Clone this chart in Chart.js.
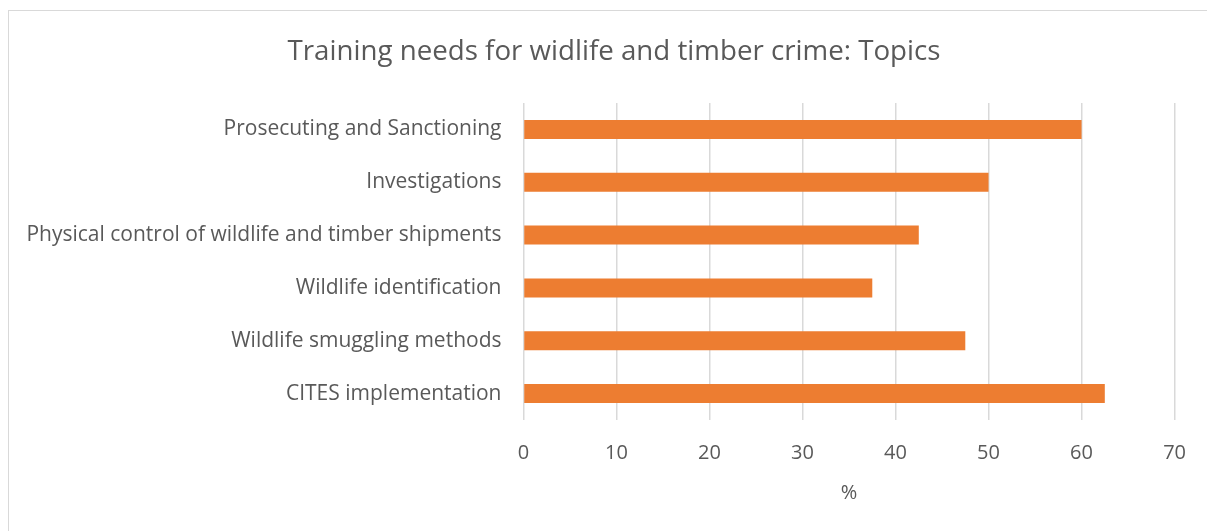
<!DOCTYPE html>
<html>
<head>
<meta charset="utf-8">
<script src="https://cdn.jsdelivr.net/npm/chart.js@4/dist/chart.umd.min.js"></script>
<style>
  html, body { margin: 0; padding: 0; background: #fff; overflow: hidden; }
  #frame { position: absolute; left: 8px; top: 10px; width: 1300px; height: 600px; border: 1px solid #d9d9d9; box-sizing: border-box; }
  #c { position: absolute; left: 0; top: 0; }
</style>
</head>
<body>
<div id="frame"></div>
<canvas id="c" width="1207" height="531"></canvas>
<script>
const chartTitle = 'Training needs for widlife and timber crime: Topics';
const categories = [
  'Prosecuting and Sanctioning',
  'Investigations',
  'Physical control of wildlife and timber shipments',
  'Wildlife identification',
  'Wildlife smuggling methods',
  'CITES implementation'
];
const values = [60, 50, 42.5, 37.5, 47.5, 62.5];
const xAxisTitle = '%';
const xMin = 0, xMax = 70, xStep = 10;

const textColor = '#595959';
const fontFamily = "'Open Sans', 'DejaVu Sans', sans-serif";

// Chart title centred on the chart frame (frame spans beyond the plot area)
const frameTitle = {
  id: 'frameTitle',
  afterDraw(chart) {
    const ctx = chart.ctx;
    ctx.save();
    ctx.fillStyle = textColor;
    ctx.font = "400 27.7px " + fontFamily;
    ctx.textAlign = 'center';
    ctx.textBaseline = 'middle';
    ctx.fillText(chartTitle, 614, 52);
    ctx.restore();
  }
};

new Chart(document.getElementById('c'), {
  type: 'bar',
  data: {
    labels: categories,
    datasets: [{
      data: values,
      backgroundColor: '#ED7D31',
      borderWidth: 0,
      categoryPercentage: 1,
      barPercentage: 0.36
    }]
  },
  options: {
    indexAxis: 'y',
    responsive: false,
    animation: false,
    layout: { padding: { left: 0, right: 30.5, top: 103, bottom: 0 } },
    plugins: {
      legend: { display: false },
      tooltip: { enabled: false },
      title: { display: false }
    },
    scales: {
      x: {
        min: xMin, max: xMax,
        ticks: { stepSize: xStep, color: textColor, font: { family: fontFamily, size: 20 }, padding: 21 },
        grid: { color: '#d9d9d9', lineWidth: 1.5, drawTicks: false },
        border: { display: false },
        title: { display: true, text: xAxisTitle, color: textColor, font: { family: fontFamily, size: 20 }, padding: { top: 0, bottom: 26 } },
        afterFit: (s) => { s.height = 111; }
      },
      y: {
        ticks: { color: textColor, font: { family: fontFamily, size: 21 }, padding: 22 },
        grid: { display: false, drawTicks: false },
        border: { display: false },
        afterFit: (s) => { s.width = 523.5; }
      }
    }
  },
  plugins: [frameTitle]
});
</script>
</body>
</html>
